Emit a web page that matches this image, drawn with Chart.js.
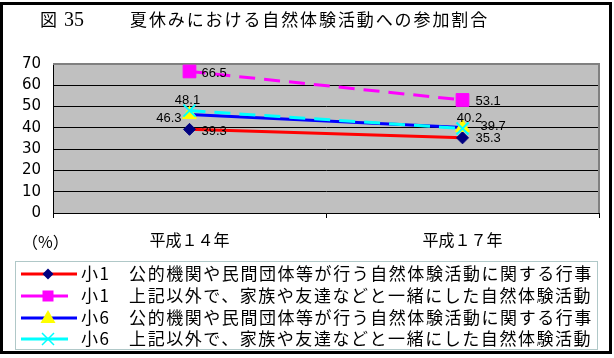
<!DOCTYPE html>
<html>
<head>
<meta charset="utf-8">
<script src="https://cdn.jsdelivr.net/npm/chart.js@4/dist/chart.umd.min.js"></script>
<style>
  body { margin: 0; background: #fff; }
  #wrap { position: relative; width: 614px; height: 358px; }
  #frame { position: absolute; left: 0; top: 2px; width: 606px; height: 346px; border: 3px solid #000; pointer-events: none; }
  #caixa { position: absolute; left: 15px; top: 261px; width: 581px; height: 87px; border: 1px solid #b0c8c8; pointer-events: none; }
  canvas { position: absolute; left: 0; top: 0; }
</style>
</head>
<body>
<div id="wrap">
  <canvas id="grafico" width="614" height="358"></canvas>
  <div id="caixa"></div>
  <div id="frame"></div>
</div>
<script>
// dados
const anos = ['平成１４年', '平成１７年']
const nomes = [
  '小1　公的機関や民間団体等が行う自然体験活動に関する行事',
  '小1　上記以外で、家族や友達などと一緒にした自然体験活動',
  '小6　公的機関や民間団体等が行う自然体験活動に関する行事',
  '小6　上記以外で、家族や友達などと一緒にした自然体験活動'
]
const sho1_gyoji = [39.3, 35.3]
const sho1_kazoku = [66.5, 53.1]
const sho6_gyoji = [46.3, 40.2]
const sho6_kazoku = [48.1, 39.7]
const yTicks = [0, 10, 20, 30, 40, 50, 60, 70]

const JP = '"Noto Sans CJK JP", sans-serif'
Chart.defaults.font.family = JP
Chart.defaults.color = '#000'

// marcador da legenda desenhado a mao
function marca(ctx, estilo, cor, x, y) {
  ctx.fillStyle = cor
  ctx.strokeStyle = cor
  ctx.beginPath()
  if (estilo == 'rectRot') {
    ctx.moveTo(x, y - 5.5); ctx.lineTo(x + 5.5, y); ctx.lineTo(x, y + 5.5); ctx.lineTo(x - 5.5, y)
    ctx.closePath(); ctx.fill()
  } else if (estilo == 'rect') {
    ctx.rect(x - 5.5, y - 5.5, 11, 11); ctx.fill()
  } else if (estilo == 'triangle') {
    ctx.moveTo(x, y - 8); ctx.lineTo(x + 7.5, y + 5); ctx.lineTo(x - 7.5, y + 5)
    ctx.closePath(); ctx.fill()
  } else {
    ctx.lineWidth = 1.5
    ctx.moveTo(x - 6, y - 6); ctx.lineTo(x + 6, y + 6)
    ctx.moveTo(x + 6, y - 6); ctx.lineTo(x - 6, y + 6)
    ctx.stroke()
  }
}

// fundo cinza da area do grafico
const fundo = {
  id: 'fundo',
  beforeDraw(chart) {
    const a = chart.chartArea
    const ctx = chart.ctx
    ctx.save()
    ctx.fillStyle = '#c0c0c0'
    ctx.fillRect(a.left, a.top, a.right - a.left, a.bottom - a.top)
    ctx.restore()
  },
  beforeDatasetsDraw(chart) {
    const a = chart.chartArea
    const ctx = chart.ctx
    ctx.save()
    ctx.strokeStyle = '#808080'
    ctx.lineWidth = 2
    ctx.beginPath()
    ctx.moveTo(a.left, a.top)
    ctx.lineTo(a.right, a.top)
    ctx.lineTo(a.right, a.bottom)
    ctx.stroke()
    ctx.restore()
  }
}

// rotulos dos valores
const rotulos = {
  id: 'rotulos',
  afterDatasetsDraw(chart) {
    const ctx = chart.ctx
    ctx.save()
    ctx.font = '13px "Liberation Sans", Arial, sans-serif'
    ctx.fillStyle = '#000'
    ctx.textBaseline = 'middle'
    chart.data.datasets.forEach((ds, i) => {
      const meta = chart.getDatasetMeta(i)
      meta.data.forEach((p, j) => {
        const pos = ds.labelPos[j]
        ctx.textAlign = pos[0]
        ctx.fillText(ds.data[j].toFixed(1), p.x + pos[1], p.y + pos[2])
      })
    })
    ctx.restore()
  }
}

// titulo, (%) e legenda
const textos = {
  id: 'textos',
  afterDraw(chart) {
    const ctx = chart.ctx
    ctx.save()
    ctx.fillStyle = '#000'
    ctx.textBaseline = 'middle'
    ctx.textAlign = 'left'
    ctx.font = '17px "Noto Sans CJK JP"'
    ctx.fillText('図', 40, 20)
    ctx.font = '20px "Liberation Serif", "DejaVu Serif", serif'
    ctx.fillText('35', 64, 21)
    ctx.font = '17px ' + JP
    ctx.letterSpacing = '1.9px'
    ctx.fillText('夏休みにおける自然体験活動への参加割合', 130, 20)

    ctx.letterSpacing = '0px'
    ctx.font = '16px ' + JP
    ctx.fillText('（%）', 22, 242)

    // legenda
    const linhas = [274, 296, 318, 339]
    chart.data.datasets.forEach((ds, i) => {
      const y = linhas[i]
      ctx.strokeStyle = ds.borderColor
      ctx.lineWidth = 3
      ctx.beginPath()
      ctx.moveTo(21, y)
      ctx.lineTo(ds.borderDash ? 68 : 77, y)
      ctx.stroke()
      marca(ctx, ds.pointStyle, ds.pointBackgroundColor, 48, y)
      ctx.fillStyle = '#000'
      ctx.font = '17px ' + JP
      ctx.letterSpacing = '1.55px'
      ctx.fillText(nomes[i], 81, y)
      ctx.letterSpacing = '0px'
    })
    ctx.restore()
  }
}

const config = {
  type: 'line',
  data: {
    labels: anos,
    datasets: [
      {
        label: nomes[0],
        data: sho1_gyoji,
        borderColor: '#ff0000',
        borderWidth: 3,
        pointStyle: 'rectRot',
        pointRadius: 6,
        pointBackgroundColor: '#000080',
        pointBorderColor: '#000080',
        pointBorderWidth: 1,
        order: 4,
        labelPos: [['left', 12, 2], ['left', 13, 0.5]]
      },
      {
        label: nomes[1],
        data: sho1_kazoku,
        borderColor: '#ff00ff',
        borderWidth: 3,
        borderDash: [16, 9],
        pointStyle: 'rect',
        pointRadius: 9,
        pointBackgroundColor: '#ff00ff',
        pointBorderColor: '#ff00ff',
        pointBorderWidth: 1,
        order: 3,
        labelPos: [['left', 12, 1.5], ['left', 13, 1]]
      },
      {
        label: nomes[2],
        data: sho6_gyoji,
        borderColor: '#0000ff',
        borderWidth: 3,
        pointStyle: 'triangle',
        pointRadius: 8,
        pointBackgroundColor: '#ffff00',
        pointBorderColor: '#ffff00',
        pointBorderWidth: 1,
        order: 2,
        labelPos: [['right', -8, 3.5], ['center', 7, -9]]
      },
      {
        label: nomes[3],
        data: sho6_kazoku,
        borderColor: '#00ffff',
        borderWidth: 3,
        borderDash: [16, 9],
        pointStyle: 'crossRot',
        pointRadius: 8.5,
        pointBackgroundColor: '#00ffff',
        pointBorderColor: '#00ffff',
        pointBorderWidth: 2,
        order: 1,
        labelPos: [['center', -2, -10], ['left', 18, -2]]
      }
    ]
  },
  options: {
    responsive: false,
    animation: false,
    layout: { padding: { left: 0, top: 64, right: 15, bottom: 0 } },
    plugins: {
      legend: { display: false },
      tooltip: { enabled: false }
    },
    elements: { line: { tension: 0 } },
    scales: {
      x: {
        offset: true,
        grid: { offset: true, drawOnChartArea: false, color: '#000', tickLength: 5 },
        border: { color: '#000', width: 1 },
        ticks: { font: { size: 16, family: JP }, color: '#000', padding: 12 },
        afterFit(s) { s.height = 145 }
      },
      y: {
        min: 0,
        max: 70,
        afterBuildTicks(s) { s.ticks = yTicks.map(v => ({ value: v })) },
        grid: { color: '#000', drawTicks: false, lineWidth: 1 },
        border: { color: '#000', width: 1 },
        ticks: { font: { size: 15, family: '"DejaVu Sans", sans-serif' }, color: '#000', padding: 12 },
        afterFit(s) { s.width = 53 }
      }
    }
  },
  plugins: [fundo, rotulos, textos]
}

const myChart = new Chart(document.getElementById('grafico'), config)
</script>
</body>
</html>
